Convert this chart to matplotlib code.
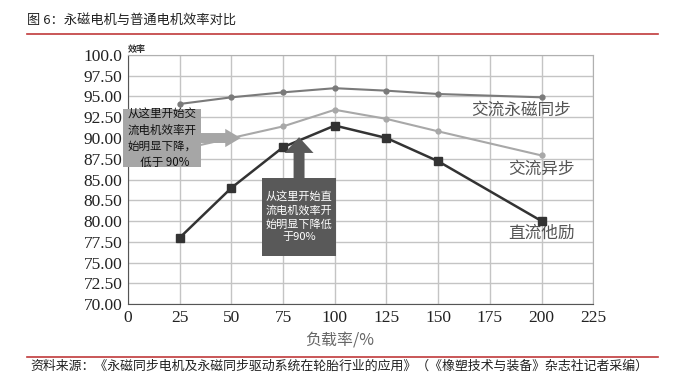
import matplotlib
matplotlib.use("Agg")
import matplotlib.pyplot as plt
from matplotlib.patches import FancyArrow, Rectangle
from matplotlib.lines import Line2D

plt.rcParams['font.family'] = ['Noto Sans CJK SC', 'DejaVu Sans']

# Data
load = [25, 50, 75, 100, 125, 150, 200]
ac_pm = [94.1, 94.9, 95.5, 96.0, 95.7, 95.3, 94.9]
ac_async = [88.6, 90.0, 91.4, 93.4, 92.3, 90.8, 87.9]
dc = [78.0, 84.0, 88.9, 91.5, 90.0, 87.2, 80.0]
series_names = ['交流永磁同步', '交流异步', '直流他励']

x_ticks = [0, 25, 50, 75, 100, 125, 150, 175, 200, 225]
y_ticks = [70, 72.5, 75, 77.5, 80, 82.5, 85, 87.5, 90, 92.5, 95, 97.5, 100]
y_tick_labels = ['70.00', '72.50', '75.00', '77.50', '80.00', '80.50', '85.00',
                 '87.50', '90.00', '92.50', '95.00', '97.50', '100.0']

fig = plt.figure(figsize=(6.85, 3.74), dpi=100)
ax = fig.add_axes([0.187, 0.187, 0.679, 0.666])

ax.plot(load, ac_pm, color='#7a7a7a', lw=1.5, marker='o', ms=3.5, zorder=3)
ax.plot(load, ac_async, color='#a8a8a8', lw=1.5, marker='o', ms=3.5, zorder=3)
ax.plot(load, dc, color='#333333', lw=1.8, marker='s', ms=5.5, zorder=4)

ax.set_xlim(0, 225)
ax.set_ylim(70, 100)
ax.set_xticks(x_ticks)
ax.set_yticks(y_ticks)
ax.set_yticklabels(y_tick_labels)
ax.grid(True, color='#c4c4c4', lw=1)
ax.set_axisbelow(True)
for s in ax.spines.values():
    s.set_color('#b0b0b0')
ax.spines['left'].set_color('#555555')
ax.spines['bottom'].set_color('#555555')
ax.tick_params(length=0, pad=4, labelsize=12.5, colors='#222222',
               labelfontfamily='Liberation Serif')

ax.set_xlabel('负载率/%', fontsize=11.5, color='#666666', labelpad=2)
ax.xaxis.set_label_coords(0.455, -0.115)
ax.text(0.0, 1.005, '效率', transform=ax.transAxes, fontsize=6.5,
        ha='left', va='bottom', color='#333333', fontweight='bold')

# series labels
ax.text(190, 93.4, series_names[0], fontsize=12, color='#555555', ha='center', va='center')
ax.text(200, 86.2, series_names[1], fontsize=12, color='#555555', ha='center', va='center')
ax.text(200, 78.5, series_names[2], fontsize=12, color='#555555', ha='center', va='center')

# annotation 1 (light box with right arrow)
ax.add_patch(Rectangle((-2.4, 86.5), 37.7, 7.0, facecolor='#a6a6a6',
                       edgecolor='none', zorder=5, clip_on=False))
ax.add_patch(FancyArrow(35.0, 90.0, 12.0, 0, width=1.2, head_width=2.2,
                        head_length=7.5, length_includes_head=False,
                        facecolor='#a6a6a6', edgecolor='none', zorder=5))
ax.text(16.4, 90.0, '从这里开始交\n流电机效率开\n始明显下降，\n  低于 90%', fontsize=8.3,
        color='#111111', ha='center', va='center', linespacing=1.3, zorder=6)

# annotation 2 (dark box with up arrow)
ax.add_patch(Rectangle((64.8, 75.8), 35.8, 9.4, facecolor='#595959',
                       edgecolor='none', zorder=5))
ax.add_patch(FancyArrow(82.7, 85.1, 0, 3.1, width=5.3, head_width=14.0,
                        head_length=1.9, length_includes_head=False,
                        facecolor='#595959', edgecolor='none', zorder=5))
ax.text(82.7, 80.5, '从这里开始直\n流电机效率开\n始明显下降低\n于90%', fontsize=8,
        color='white', ha='center', va='center', linespacing=1.35, zorder=6)

# header & footer
fig.text(27/685, 1 - 20/374, '图 6：永磁电机与普通电机效率对比', fontsize=9.5,
         color='#222222', ha='left', va='center')
fig.add_artist(Line2D([27/685, 658/685], [1 - 34/374, 1 - 34/374], color='#c0393b', lw=1.2))
fig.add_artist(Line2D([27/685, 658/685], [1 - 357/374, 1 - 357/374], color='#c0393b', lw=1.2))
fig.text(30/685, 1 - 366/374,
         '资料来源：《永磁同步电机及永磁同步驱动系统在轮胎行业的应用》（《橡塑技术与装备》杂志社记者采编）',
         fontsize=9.3, color='#222222', ha='left', va='center')

fig.savefig('out.png', dpi=100)
